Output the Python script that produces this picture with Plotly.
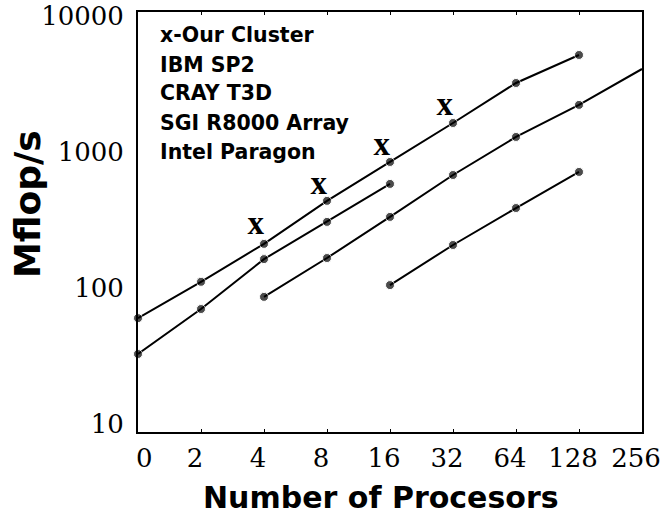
import plotly.graph_objects as go

# ---- data ----
tick_labels = ["0", "2", "4", "8", "16", "32", "64", "128", "256"]
y_tickvals = [10, 100, 1000, 10000]

ibm_x = ["0", "2", "4", "8", "16", "32", "64", "128"]
ibm_y = [60, 111, 211, 437, 844, 1633, 3214, 5164]

cray_x = ["0", "2", "4", "8", "16"]
cray_y = [32.7, 70, 163, 306, 582]

sgi_x = ["4", "8", "16", "32", "64", "128", "256"]
sgi_y = [86, 166, 333, 677, 1289, 2218, 4074]

intel_x = ["16", "32", "64", "128"]
intel_y = [105, 207, 387, 713]

cluster_x = ["4", "8", "16", "32"]
cluster_y = [286, 563, 1089, 2143]

legend_labels = ["x-Our Cluster", "IBM SP2", "CRAY T3D", "SGI R8000 Array", "Intel Paragon"]

# ---- figure ----
fig = go.Figure()

line_style = dict(color="black", width=2)


def add_line(xs, ys, name, last_marker=True):
    sizes = [9] * len(xs)
    if not last_marker:
        sizes[-1] = 0
    fig.add_trace(go.Scatter(
        x=xs, y=ys, name=name, mode="lines+markers",
        line=line_style,
        marker=dict(color="black", size=sizes, symbol="circle"),
        cliponaxis=False, showlegend=False,
    ))


add_line(ibm_x, ibm_y, legend_labels[1])
add_line(cray_x, cray_y, legend_labels[2])
add_line(sgi_x, sgi_y, legend_labels[3], last_marker=False)
add_line(intel_x, intel_y, legend_labels[4])

fig.add_trace(go.Scatter(
    x=cluster_x, y=cluster_y, name=legend_labels[0], mode="text",
    text=["x"] * len(cluster_x), textposition="middle left",
    textfont=dict(family="Liberation Serif", size=33, color="black", weight="bold"),
    cliponaxis=False, showlegend=False,
))

# legend drawn as plain text lines (the reference has no legend symbols)
legend_y_px = [35, 65, 93, 123, 152]
plot_top, plot_bottom = 12, 432
for lab, ypx in zip(legend_labels, legend_y_px):
    fig.add_annotation(
        text=lab, xref="paper", yref="paper",
        x=(158 - 138) / 504, y=(plot_bottom - ypx) / (plot_bottom - plot_top),
        xanchor="left", yanchor="middle", showarrow=False,
        font=dict(family="DejaVu Sans", size=20.5, color="black", weight="bold"),
    )

# axis titles
fig.add_annotation(
    text="Number of Procesors", xref="paper", yref="paper",
    x=(381 - 138) / 504, y=-(498 - 432) / 420, xanchor="center", yanchor="middle",
    showarrow=False, font=dict(family="DejaVu Sans", size=30, color="black", weight="bold"),
)
fig.add_annotation(
    text="Mflop/s", xref="paper", yref="paper", textangle=-90,
    x=-(138 - 27) / 504, y=(432 - 204) / 420, xanchor="center", yanchor="middle",
    showarrow=False, font=dict(family="DejaVu Sans", size=36, color="black", weight="bold"),
)

# first label nudged right like the reference (all labels sit a little left of their ticks)
nbsp = "\u00a0"
x_ticktext = list(tick_labels)
x_ticktext[0] = nbsp * 3 + x_ticktext[0]

fig.update_layout(
    width=664, height=519, autosize=False,
    margin=dict(l=138, r=22, t=12, b=87, pad=0),
    paper_bgcolor="white", plot_bgcolor="white",
    showlegend=False,
    xaxis=dict(
        type="category", categoryorder="array", categoryarray=tick_labels,
        tickvals=tick_labels, ticktext=x_ticktext,
        range=[0, 8], showgrid=False, zeroline=False,
        showline=True, linecolor="black", linewidth=1.8, mirror="ticks",
        ticks="inside", ticklen=3, tickwidth=1.2, tickcolor="black",
        tickfont=dict(family="DejaVu Serif", size=26, color="black"),
        ticklabelstandoff=2, ticklabelshift=-6, automargin=False,
    ),
    yaxis=dict(
        type="log", range=[0.941, 4.029],
        tickvals=y_tickvals, ticktext=[str(v) for v in y_tickvals],
        showgrid=False, zeroline=False,
        showline=True, linecolor="black", linewidth=1.8, mirror=True,
        ticks="",
        tickfont=dict(family="DejaVu Serif", size=26, color="black"),
        ticklabelstandoff=7, automargin=False,
    ),
)

fig.write_html("out.html")
